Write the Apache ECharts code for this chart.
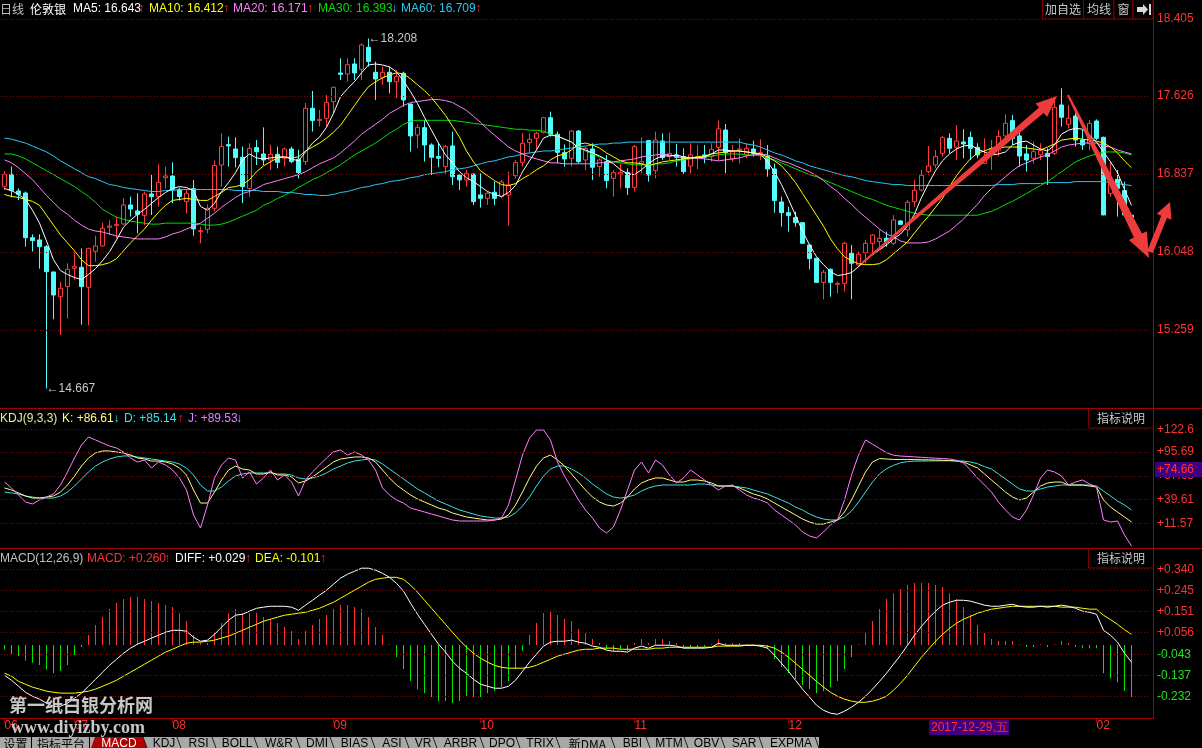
<!DOCTYPE html>
<html><head><meta charset="utf-8">
<script src="https://cdn.jsdelivr.net/npm/echarts@6/dist/echarts.min.js"></script>
<style>html,body{margin:0;padding:0;background:#000;overflow:hidden}#c{width:1202px;height:748px}</style>
</head><body><div id="c"></div>
<script>
// ---------------- DATA ----------------
const opens=[16.709,16.834,16.665,16.645,16.193,16.170,16.102,15.846,15.596,15.698,
15.883,15.893,15.691,16.055,16.109,16.298,16.315,16.332,16.524,16.463,
16.419,16.635,16.608,16.800,16.817,16.682,16.557,16.689,16.254,16.278,
16.490,16.928,17.134,17.090,17.006,16.692,17.104,17.040,16.979,17.036,
16.996,17.090,16.986,16.962,17.502,17.377,17.400,17.569,17.859,17.849,
17.950,17.896,18.119,17.866,17.815,17.866,17.771,17.856,17.545,17.232,
17.306,17.131,17.013,16.912,17.121,16.827,16.777,16.837,16.625,16.591,
16.652,16.608,16.625,16.820,16.955,17.154,17.198,17.255,17.407,17.239,
17.053,16.996,17.272,16.979,17.090,16.912,16.962,16.793,16.837,16.854,
16.702,16.945,17.175,16.871,17.171,17.013,17.030,17.013,16.918,17.000,
17.030,17.013,17.107,17.282,16.989,17.080,17.030,17.090,17.040,17.013,
16.888,16.554,16.446,16.396,16.345,16.119,15.984,15.741,15.873,15.721,
15.731,16.035,15.917,16.042,16.136,16.153,16.187,16.136,16.362,16.271,
16.557,16.675,16.861,16.928,17.046,17.198,17.107,17.161,17.208,17.107,
16.945,17.040,17.080,17.222,17.377,17.222,17.040,16.996,17.030,17.046,
17.046,17.535,17.340,17.424,17.181,17.148,17.373,17.208,16.642,16.783,
16.669,16.420];
const closes=[16.834,16.669,16.632,16.193,16.163,16.102,15.849,15.613,15.681,15.873,
15.900,15.698,16.085,16.109,16.288,16.311,16.328,16.524,16.483,16.429,
16.635,16.608,16.753,16.817,16.682,16.608,16.642,16.281,16.264,16.490,
16.922,17.114,17.121,17.003,16.709,17.097,17.063,16.979,17.036,16.955,
17.090,16.962,16.851,17.502,17.377,17.390,17.562,17.714,17.846,17.943,
17.859,18.142,17.974,17.798,17.866,17.771,17.822,17.586,17.222,17.309,
17.131,17.006,16.996,17.114,16.810,16.777,16.844,16.557,16.591,16.642,
16.591,16.756,16.726,16.952,17.148,17.188,17.249,17.407,17.239,17.056,
16.989,17.272,16.962,17.097,16.905,16.979,16.770,16.851,16.854,16.699,
17.114,16.962,16.827,17.181,17.003,17.046,17.006,16.861,17.030,17.013,
17.006,17.087,17.293,17.053,17.063,17.090,17.097,17.046,17.053,16.888,
16.568,16.446,16.416,16.345,16.136,15.981,15.741,15.843,15.741,15.731,
16.136,15.934,16.025,16.136,16.220,16.187,16.146,16.372,16.328,16.551,
16.672,16.824,16.918,17.013,17.205,17.097,17.171,17.141,17.097,17.030,
16.996,17.087,17.215,17.350,17.198,17.019,16.979,17.063,17.073,17.013,
17.512,17.411,17.401,17.181,17.131,17.350,17.198,16.423,16.760,16.692,
16.423,16.400];
const lows=[16.675,16.601,16.574,16.102,16.052,15.880,14.667,15.367,15.209,15.374,
15.765,15.313,15.306,15.950,16.102,16.220,16.187,16.321,16.406,16.237,
16.321,16.423,16.507,16.692,16.541,16.568,16.439,16.213,16.136,16.237,
16.456,16.709,16.912,16.905,16.541,16.608,16.928,16.928,16.878,16.895,
16.912,16.945,16.793,16.928,17.266,17.316,17.316,17.451,17.788,17.771,
17.788,17.788,17.923,17.586,17.738,17.653,17.603,17.518,17.063,17.097,
16.962,16.827,16.905,16.827,16.726,16.675,16.709,16.524,16.497,16.524,
16.524,16.591,16.315,16.793,16.912,17.046,17.080,17.249,17.215,16.945,
16.912,16.912,16.945,16.878,16.777,16.810,16.692,16.608,16.692,16.625,
16.659,16.844,16.760,16.793,16.979,16.979,16.912,16.837,16.844,16.885,
16.945,16.962,16.979,16.844,16.962,16.945,16.996,17.013,16.979,16.810,
16.446,16.304,16.254,16.304,16.130,15.873,15.735,15.569,15.596,15.630,
15.647,15.569,15.893,15.934,16.035,16.069,16.102,16.119,16.320,16.203,
16.507,16.659,16.844,16.895,17.013,17.046,16.979,16.996,16.979,16.996,
16.940,16.878,17.013,17.181,17.131,16.912,16.861,16.945,16.979,16.726,
17.030,17.316,17.299,17.114,17.080,17.080,17.181,16.420,16.608,16.406,
16.420,16.380];
const highs=[16.868,16.912,16.692,16.660,16.227,16.227,16.119,15.850,15.748,15.934,
16.042,16.085,16.090,16.213,16.345,16.369,16.406,16.591,16.608,16.642,
16.659,16.837,16.935,16.912,16.955,16.699,16.682,16.777,16.304,16.530,
16.972,17.249,17.215,17.208,17.114,17.148,17.181,17.309,17.131,17.114,
17.104,17.114,17.080,17.559,17.677,17.485,17.636,17.721,18.007,18.007,
18.007,18.159,18.208,17.974,17.923,17.923,17.889,17.873,17.545,17.340,
17.384,17.148,17.148,17.131,17.266,16.830,16.878,16.840,16.844,16.659,
16.760,16.777,16.861,16.979,17.249,17.249,17.266,17.410,17.468,17.266,
17.137,17.282,17.282,17.114,17.148,16.996,17.030,16.878,16.945,16.895,
17.131,17.208,17.181,17.266,17.249,17.255,17.141,17.097,17.148,17.131,
17.131,17.148,17.377,17.343,17.131,17.198,17.148,17.175,17.188,17.131,
16.945,16.608,16.507,16.456,16.350,16.125,15.990,15.866,15.883,15.748,
16.153,16.119,16.052,16.170,16.230,16.271,16.254,16.423,16.370,16.574,
16.777,16.878,17.121,17.080,17.222,17.249,17.333,17.289,17.266,17.148,
17.198,17.181,17.282,17.441,17.434,17.255,17.131,17.165,17.148,17.097,
17.620,17.704,17.535,17.512,17.282,17.384,17.390,17.215,16.962,16.878,
16.760,16.430];
const ma5=[16.69,16.67,16.63,16.58,16.47,16.34,16.16,15.97,15.86,15.82,
15.79,15.77,15.82,15.88,15.96,16.05,16.17,16.30,16.37,16.43,
16.48,16.54,16.60,16.65,16.69,16.71,16.70,16.67,16.51,16.47,
16.54,16.66,16.75,16.85,16.98,17.04,17.00,16.99,17.00,17.01,
17.01,16.99,16.97,17.06,17.15,17.21,17.31,17.45,17.62,17.70,
17.77,17.86,17.94,17.95,17.94,17.92,17.87,17.78,17.67,17.55,
17.41,17.28,17.15,17.03,16.95,16.86,16.80,16.76,16.71,16.66,
16.63,16.61,16.65,16.72,16.86,16.97,17.08,17.20,17.23,17.22,
17.19,17.16,17.10,17.08,17.05,17.02,16.98,16.94,16.88,16.84,
16.83,16.88,16.94,16.99,17.02,17.02,17.03,17.01,17.00,17.00,
17.01,17.04,17.08,17.08,17.07,17.07,17.06,17.05,17.04,16.96,
16.86,16.73,16.58,16.42,16.26,16.12,16.00,15.92,15.85,15.81,
15.82,15.84,15.90,15.96,16.02,16.07,16.12,16.18,16.23,16.31,
16.43,16.60,16.74,16.87,16.97,17.04,17.09,17.12,17.13,17.09,
17.06,17.03,17.04,17.06,17.13,17.16,17.17,17.13,17.09,17.07,
17.13,17.24,17.28,17.30,17.29,17.23,17.16,17.06,16.96,16.85,
16.68,16.52];
const ma10=[16.63,16.61,16.60,16.58,16.56,16.52,16.42,16.32,16.22,16.14,
16.06,15.97,15.91,15.91,15.92,15.94,15.98,16.06,16.14,16.21,
16.28,16.37,16.45,16.52,16.57,16.58,16.59,16.58,16.57,16.57,
16.61,16.65,16.70,16.71,16.73,16.78,16.86,16.92,16.96,17.00,
17.01,17.00,17.01,17.07,17.11,17.15,17.20,17.26,17.33,17.43,
17.53,17.63,17.72,17.77,17.81,17.84,17.86,17.85,17.80,17.74,
17.68,17.61,17.52,17.43,17.32,17.21,17.07,16.96,16.87,16.82,
16.77,16.73,16.72,16.74,16.79,16.83,16.88,16.92,16.98,17.02,
17.04,17.08,17.14,17.15,17.13,17.10,17.05,17.01,16.97,16.95,
16.95,16.94,16.92,16.94,16.96,16.97,16.98,16.99,17.00,17.01,
17.02,17.04,17.05,17.06,17.07,17.07,17.06,17.05,17.04,17.01,
16.97,16.92,16.84,16.75,16.64,16.53,16.42,16.31,16.18,16.08,
16.00,15.96,15.93,15.92,15.92,15.93,15.97,16.03,16.09,16.15,
16.24,16.33,16.41,16.50,16.59,16.71,16.82,16.91,16.99,17.05,
17.07,17.10,17.10,17.11,17.11,17.11,17.10,17.09,17.08,17.11,
17.14,17.18,17.19,17.20,17.19,17.18,17.17,17.15,17.11,17.05,
16.97,16.90];
const ma20=[16.98,16.95,16.90,16.84,16.78,16.70,16.62,16.55,16.48,16.43,
16.37,16.32,16.28,16.26,16.25,16.23,16.21,16.20,16.19,16.18,
16.18,16.18,16.18,16.20,16.23,16.25,16.28,16.31,16.34,16.39,
16.44,16.50,16.55,16.60,16.64,16.66,16.69,16.73,16.75,16.77,
16.79,16.81,16.83,16.86,16.90,16.94,16.97,17.00,17.05,17.11,
17.17,17.24,17.29,17.34,17.39,17.45,17.49,17.53,17.56,17.57,
17.58,17.59,17.59,17.58,17.56,17.52,17.48,17.42,17.36,17.29,
17.23,17.17,17.11,17.07,17.04,17.01,16.99,16.97,16.95,16.95,
16.94,16.94,16.94,16.94,16.94,16.95,16.95,16.96,16.97,16.98,
16.99,17.01,17.02,17.03,17.04,17.03,17.01,17.00,17.00,17.00,
16.99,16.98,16.97,16.98,16.99,17.00,17.02,17.03,17.04,17.03,
17.00,16.97,16.95,16.92,16.89,16.86,16.82,16.77,16.71,16.66,
16.59,16.53,16.46,16.40,16.34,16.28,16.23,16.20,16.16,16.14,
16.14,16.14,16.15,16.18,16.22,16.26,16.32,16.38,16.46,16.53,
16.62,16.69,16.75,16.81,16.87,16.92,16.95,16.98,17.01,17.03,
17.07,17.11,17.13,17.14,17.15,17.15,17.15,17.12,17.11,17.08,
17.06,17.04];
const ma30=[17.04,17.04,17.02,16.99,16.95,16.91,16.87,16.83,16.79,16.75,
16.71,16.66,16.61,16.55,16.48,16.44,16.40,16.38,16.36,16.35,
16.34,16.33,16.33,16.34,16.34,16.34,16.34,16.34,16.33,16.32,
16.32,16.33,16.35,16.38,16.41,16.44,16.47,16.52,16.55,16.59,
16.62,16.66,16.70,16.74,16.78,16.81,16.85,16.89,16.93,16.98,
17.03,17.07,17.11,17.15,17.20,17.25,17.29,17.34,17.37,17.38,
17.38,17.38,17.38,17.38,17.38,17.37,17.36,17.35,17.34,17.33,
17.32,17.31,17.30,17.29,17.29,17.28,17.28,17.27,17.24,17.22,
17.19,17.16,17.11,17.07,17.04,17.01,16.98,16.96,16.95,16.94,
16.93,16.93,16.93,16.94,16.94,16.95,16.97,16.98,16.99,17.00,
17.01,17.02,17.03,17.04,17.04,17.04,17.03,17.03,17.02,17.00,
16.98,16.95,16.92,16.89,16.86,16.83,16.81,16.78,16.75,16.72,
16.69,16.66,16.63,16.60,16.58,16.55,16.52,16.50,16.48,16.46,
16.44,16.43,16.42,16.42,16.42,16.42,16.42,16.42,16.42,16.42,
16.44,16.46,16.49,16.53,16.56,16.60,16.64,16.68,16.72,16.76,
16.81,16.86,16.91,16.96,16.99,17.02,17.04,17.06,17.06,17.06,
17.05,17.03];
const ma60=[17.20,17.19,17.17,17.15,17.12,17.09,17.06,17.02,16.97,16.93,
16.89,16.85,16.81,16.79,16.76,16.73,16.72,16.70,16.69,16.68,
16.67,16.66,16.66,16.67,16.67,16.68,16.68,16.68,16.68,16.68,
16.68,16.68,16.68,16.67,16.67,16.67,16.67,16.66,16.66,16.66,
16.65,16.65,16.64,16.63,16.63,16.62,16.62,16.63,16.65,16.66,
16.68,16.70,16.71,16.73,16.74,16.76,16.77,16.78,16.80,16.81,
16.83,16.84,16.85,16.86,16.88,16.89,16.90,16.92,16.94,16.96,
16.97,16.99,17.01,17.02,17.04,17.05,17.06,17.07,17.07,17.08,
17.09,17.10,17.11,17.12,17.13,17.14,17.14,17.15,17.15,17.16,
17.16,17.16,17.16,17.16,17.16,17.16,17.16,17.16,17.16,17.16,
17.16,17.16,17.16,17.16,17.16,17.16,17.14,17.13,17.11,17.08,
17.05,17.03,17.00,16.97,16.95,16.92,16.90,16.88,16.86,16.84,
16.82,16.81,16.79,16.77,16.76,16.75,16.74,16.73,16.73,16.72,
16.72,16.72,16.72,16.72,16.72,16.72,16.72,16.72,16.72,16.72,
16.72,16.72,16.73,16.73,16.73,16.74,16.74,16.74,16.74,16.75,
16.75,16.75,16.75,16.76,16.76,16.76,16.76,16.76,16.75,16.74,
16.73,16.72];
const kdjK=[53.3,50.9,47.4,43.8,41.4,41.4,42.6,43.8,48.5,56.8,
67.4,79.2,88.7,94.6,97.0,97.0,95.8,94.6,92.2,88.7,
87.5,85.1,85.1,84.0,81.6,76.9,68.6,50.9,35.5,35.5,
48.5,62.7,74.5,79.2,75.7,74.5,69.8,69.8,72.2,68.6,
68.6,66.3,59.2,61.5,66.3,72.2,78.1,84.0,87.5,88.7,
89.9,89.9,88.7,84.0,74.5,65.1,56.8,50.9,45.0,40.3,
36.7,33.2,29.6,27.3,23.7,21.4,19.0,17.8,16.6,15.5,
15.5,16.6,21.4,33.2,48.5,65.1,79.2,88.7,92.2,86.3,
79.2,69.8,60.3,50.9,42.6,36.7,33.2,32.0,35.5,42.6,
52.1,59.2,62.7,65.1,65.1,62.7,60.3,60.3,62.7,62.7,
61.5,59.2,55.6,55.6,55.6,53.3,49.7,46.2,43.8,40.3,
35.5,30.8,26.1,21.4,16.6,13.1,10.7,10.7,13.1,15.5,
24.9,39.1,55.6,72.2,84.0,88.0,87.5,87.0,87.0,87.0,
86.8,86.6,86.5,86.3,86.0,85.8,85.0,84.0,80.5,76.9,
69.8,62.7,55.6,48.5,42.6,39.1,41.4,48.5,55.6,59.2,
60.3,60.3,56.8,56.8,56.8,55.6,54.4,39.1,30.8,24.9,
19.0,13.1];
const kdjD=[48.5,47.4,46.2,43.8,42.6,41.4,41.4,41.4,43.8,48.5,
55.6,63.9,72.2,79.2,84.0,87.5,89.9,91.1,91.1,89.9,
88.7,87.5,86.3,85.1,84.0,81.6,76.9,68.6,56.8,49.7,
49.7,54.4,61.5,67.4,69.8,71.0,71.0,71.0,71.0,69.8,
69.8,68.6,65.1,63.9,65.1,67.4,71.0,75.7,79.2,82.8,
85.1,86.3,87.5,86.3,81.6,75.7,69.8,63.9,58.0,52.1,
47.4,42.6,37.9,34.4,30.8,27.3,24.9,22.5,20.2,19.0,
17.8,17.8,19.0,23.7,32.0,42.6,55.6,67.4,75.7,79.2,
79.2,75.7,71.0,65.1,58.0,52.1,46.2,42.6,41.4,42.6,
45.0,49.7,53.3,55.6,56.8,56.8,56.8,56.8,56.8,58.0,
58.0,56.8,55.6,55.6,55.6,54.4,53.3,50.9,48.5,46.2,
42.6,39.1,35.5,30.8,27.3,22.5,19.0,16.6,15.5,15.5,
19.0,26.1,36.7,48.5,60.3,69.8,76.0,80.0,83.0,84.5,
85.0,85.1,85.2,85.3,85.4,85.4,85.4,85.0,84.0,82.0,
78.5,75.7,69.8,63.9,58.0,52.1,49.7,49.7,52.1,54.4,
55.6,56.8,56.8,56.8,56.8,56.8,55.6,49.7,43.8,37.9,
33.2,27.3];
const kdjJ=[60.3,53.3,45.0,36.7,34.4,39.1,42.6,46.2,56.8,72.2,
88.7,104.0,113.5,110.0,106.4,102.9,100.5,95.8,88.7,84.0,
86.3,76.9,84.0,80.4,74.5,65.1,50.9,21.4,6.0,33.2,
65.1,80.4,88.7,86.3,65.1,72.2,58.0,65.1,74.5,62.7,
68.6,60.3,43.8,62.7,72.2,80.4,88.7,95.8,98.2,92.2,
95.8,92.2,86.3,74.5,53.3,45.0,39.1,35.5,29.6,27.3,
24.9,22.5,20.2,17.8,15.5,14.3,14.3,14.3,14.3,14.3,
15.5,17.8,33.2,62.7,92.2,112.3,121.8,121.8,110.0,84.0,
67.4,53.3,39.1,27.3,17.8,6.0,0.1,7.2,27.3,50.9,
74.5,84.0,71.0,86.3,80.4,68.6,59.2,65.1,74.5,68.6,
62.7,56.8,50.9,55.6,56.8,50.9,45.0,41.4,39.1,35.5,
27.3,21.4,15.5,9.6,1.3,-3.4,-5.8,1.3,9.6,15.5,
39.1,68.6,92.2,110.0,105.0,100.0,95.0,92.0,91.0,90.5,
90.0,89.5,89.0,88.5,88.0,87.5,86.0,82.8,74.5,65.1,
56.8,48.5,36.7,27.3,19.0,15.5,27.3,45.0,65.1,74.5,
72.2,67.4,56.8,60.3,62.7,58.0,54.4,15.5,13.1,14.3,
-2.3,-15.2];
const macdDiff=[-0.136,-0.158,-0.185,-0.212,-0.230,-0.243,-0.261,-0.275,-0.275,-0.261,
-0.239,-0.216,-0.185,-0.154,-0.122,-0.091,-0.064,-0.037,-0.014,0.004,
0.017,0.031,0.044,0.057,0.066,0.066,0.062,0.035,0.017,0.022,
0.048,0.080,0.111,0.134,0.138,0.152,0.165,0.170,0.174,0.174,
0.174,0.170,0.156,0.179,0.201,0.224,0.246,0.273,0.300,0.318,
0.331,0.345,0.345,0.336,0.322,0.304,0.277,0.242,0.188,0.138,
0.093,0.048,0.004,-0.032,-0.073,-0.104,-0.127,-0.154,-0.176,-0.185,
-0.194,-0.194,-0.185,-0.158,-0.118,-0.077,-0.041,-0.005,0.013,0.017,
0.017,0.022,0.013,0.008,-0.005,-0.010,-0.023,-0.028,-0.028,-0.032,
-0.014,-0.005,-0.014,-0.001,-0.001,-0.001,-0.005,-0.014,-0.014,-0.014,
-0.014,-0.010,0.008,-0.001,-0.001,-0.001,-0.001,-0.001,-0.005,-0.014,
-0.046,-0.082,-0.118,-0.158,-0.198,-0.234,-0.270,-0.293,-0.306,-0.311,
-0.297,-0.279,-0.257,-0.230,-0.198,-0.163,-0.127,-0.086,-0.046,-0.001,
0.044,0.084,0.120,0.152,0.179,0.192,0.201,0.201,0.197,0.188,
0.179,0.174,0.174,0.179,0.183,0.174,0.170,0.170,0.174,0.170,
0.174,0.179,0.174,0.165,0.152,0.147,0.138,0.066,0.044,0.013,
-0.037,-0.077];
const macdDea=[-0.126,-0.140,-0.163,-0.176,-0.189,-0.198,-0.207,-0.212,-0.216,-0.216,
-0.216,-0.212,-0.207,-0.198,-0.185,-0.172,-0.158,-0.140,-0.122,-0.104,
-0.086,-0.068,-0.050,-0.032,-0.019,-0.005,0.008,0.013,0.013,0.017,
0.022,0.031,0.040,0.053,0.066,0.080,0.093,0.107,0.116,0.125,
0.134,0.138,0.143,0.147,0.156,0.165,0.179,0.192,0.210,0.228,
0.246,0.264,0.282,0.295,0.300,0.304,0.304,0.295,0.269,0.237,
0.201,0.165,0.129,0.093,0.057,0.022,-0.010,-0.037,-0.059,-0.077,
-0.091,-0.100,-0.104,-0.104,-0.104,-0.100,-0.091,-0.077,-0.064,-0.050,
-0.041,-0.032,-0.023,-0.019,-0.019,-0.014,-0.014,-0.014,-0.019,-0.019,
-0.019,-0.019,-0.019,-0.014,-0.014,-0.010,-0.010,-0.010,-0.010,-0.010,
-0.010,-0.010,-0.005,-0.005,-0.005,-0.005,-0.001,-0.001,-0.001,-0.005,
-0.014,-0.032,-0.055,-0.082,-0.109,-0.136,-0.163,-0.189,-0.212,-0.230,
-0.243,-0.252,-0.257,-0.257,-0.252,-0.243,-0.230,-0.203,-0.172,-0.136,
-0.095,-0.055,-0.019,0.017,0.048,0.075,0.098,0.116,0.129,0.143,
0.152,0.161,0.165,0.170,0.174,0.174,0.174,0.174,0.174,0.174,
0.174,0.170,0.170,0.170,0.165,0.161,0.161,0.134,0.114,0.093,
0.069,0.048];
const macdBar=[-0.02,-0.04,-0.05,-0.07,-0.08,-0.09,-0.11,-0.126,-0.117,-0.09,
-0.045,-0.009,0.045,0.09,0.126,0.162,0.189,0.207,0.216,0.216,
0.207,0.198,0.189,0.18,0.171,0.144,0.108,0.045,0.009,0.009,
0.054,0.099,0.144,0.162,0.144,0.144,0.144,0.126,0.117,0.099,
0.081,0.063,0.027,0.063,0.09,0.117,0.135,0.162,0.18,0.18,
0.171,0.162,0.126,0.081,0.045,0.004,-0.054,-0.108,-0.162,-0.198,
-0.216,-0.233,-0.251,-0.251,-0.26,-0.251,-0.233,-0.233,-0.233,-0.216,
-0.207,-0.189,-0.162,-0.108,-0.027,0.045,0.099,0.144,0.153,0.135,
0.117,0.108,0.072,0.054,0.027,0.009,-0.018,-0.027,-0.018,-0.027,
0.009,0.027,0.009,0.027,0.027,0.018,0.009,-0.009,-0.009,-0.009,
-0.009,0.004,0.027,0.009,0.009,0.009,0.004,0.004,-0.009,-0.018,
-0.063,-0.099,-0.126,-0.153,-0.18,-0.198,-0.216,-0.207,-0.189,-0.162,
-0.108,-0.054,0.004,0.054,0.108,0.162,0.207,0.233,0.251,0.269,
0.278,0.278,0.278,0.269,0.26,0.233,0.207,0.171,0.135,0.09,
0.054,0.027,0.018,0.018,0.018,0.004,-0.009,-0.009,0.004,-0.009,
0.004,0.018,0.009,-0.009,-0.015,-0.015,-0.015,-0.127,-0.15,-0.167,
-0.206,-0.233];
// tick labels
const priceTicks=[18.405,17.626,16.837,16.048,15.259];
const kdjTicks=[122.6,95.69,67.65,39.61,11.57];
const macdTicks=[0.340,0.245,0.151,0.056,-0.043,-0.137,-0.232];
const monthIdx=[0,10,24,47,68,90,112,156];
const monthText=['06','07','08','09','10','11','12','02'];
const maxMark={idx:52,val:18.208}, minMark={idx:6,val:14.667};

// ---------------- CHART ----------------
const N_SLOTS=164;
const cats=[];for(let i=0;i<N_SLOTS;i++)cats.push(String(i));
const ohlc=opens.map((o,i)=>[o,closes[i],lows[i],highs[i]]);
const FONT='Arial, "Liberation Sans", sans-serif';
const CJK='"Noto Sans CJK SC", "Noto Sans", sans-serif';
const RED='#ff3232', GRN='#20e020', DARK='#a00000';
const fmt3=v=>(v>=0?'+':'')+v.toFixed(3);
function gridMark(ticks,fmt){
  return {silent:true,symbol:['none','none'],animation:false,precision:4,
    lineStyle:{color:'#8c0000',type:[1,2],width:1},
    label:{show:true,position:'end',distance:8,fontFamily:FONT,fontSize:12},
    data:ticks.map(v=>({yAxis:v,label:{formatter:fmt(v),color:v>=0?RED:GRN}}))};
}
const nulls=cats.map(()=>null);
const monthSet={};monthIdx.forEach((m,k)=>monthSet[m]=monthText[k]);
const xBase={type:'category',data:cats,boundaryGap:true,axisLine:{show:false,onZero:false},axisTick:{show:false},axisLabel:{show:false},splitLine:{show:false}};
const yBase={type:'value',scale:false,axisLine:{show:false},axisTick:{show:false},axisLabel:{show:false},splitLine:{show:false}};

const G=[];
function T(x,y,text,fill,size,family,align,weight){
  G.push({type:'text',z:100,silent:true,style:{x:x,y:y,text:text,fill:fill,
    font:(weight||'normal')+' '+(size||12)+'px '+(family||FONT),
    fontSize:size||12,fontFamily:family||FONT,fontWeight:weight||'normal',
    align:align||'left',textAlign:align||'left',verticalAlign:'middle',textVerticalAlign:'middle'}});
}
function L(x1,y1,x2,y2,c,w){G.push({type:'line',z:99,silent:true,shape:{x1,y1,x2,y2},style:{stroke:c,lineWidth:w||1}});}
function R(x,y,w,h,fill,stroke){G.push({type:'rect',z:98,silent:true,shape:{x,y,width:w,height:h},style:{fill:fill||'none',stroke:stroke||null,lineWidth:1}});}
function P(pts,fill,z){G.push({type:'polygon',z:z||101,silent:true,shape:{points:pts},style:{fill:fill}});}

// header
T(0,9,'日线','#c0c0c0',12,CJK);
T(30,9,'伦敦银','#ffffff',12,CJK);
T(73,9,'MA5: 16.643','#ffffff');T(138.5,9,'↑',RED);
T(149,9,'MA10: 16.412','#ffff00');T(223,9,'↑',RED);
T(233,9,'MA20: 16.171','#ff80ff');T(307,9,'↑',RED);
T(318,9,'MA30: 16.393','#00e000');T(391,9,'↓','#40e0e0');
T(401,9,'MA60: 16.709','#28c8f0');T(475.5,9,'↑',RED);
// top buttons
R(1042.5,-1,41,20,'#000','#800000');R(1083.5,-1,30.5,20,'#000','#800000');R(1114,-1,19,20,'#000','#800000');R(1133,-1,20,20,'#000','#800000');
T(1063,9,'加自选','#c8c8c8',12,CJK,'center');T(1099,9,'均线','#c8c8c8',12,CJK,'center');T(1123.5,9,'窗','#c8c8c8',12,CJK,'center');
P([[1137,7],[1143,7],[1143,4],[1148,9.5],[1143,15],[1143,12],[1137,12]],'#d8d8d8',102);
R(1149,4,2,11,'#d8d8d8',null);
// panel borders
L(0,408.5,1202,408.5,DARK);L(0,548.5,1202,548.5,DARK);
L(1153.5,0,1153.5,718.5,DARK);L(0,718.5,1153.5,718.5,DARK);
// indicator buttons
R(1088.5,408.5,65,19.5,'#000','#800000');T(1121,418,'指标说明','#c8c8c8',12,CJK,'center');
R(1088.5,548.5,65,19.5,'#000','#800000');T(1121,558,'指标说明','#c8c8c8',12,CJK,'center');
// KDJ title
T(0,419,'KDJ(9,3,3)','#e8e8a0');T(62,419,'K: +86.61','#ffff80');T(113.5,419,'↓','#40e0e0');
T(124,419,'D: +85.14','#40e0e0');T(177.5,419,'↑',RED);T(188,419,'J: +89.53','#e080ff');T(236,419,'↓','#40e0e0');
// MACD title
T(0,559,'MACD(12,26,9)','#c0c0c0');T(87,559,'MACD: +0.260',RED);T(164,559,'↑',RED);
T(175,559,'DIFF: +0.029','#ffffff');T(245,559,'↑',RED);T(255,559,'DEA: -0.101','#ffff00');T(320,559,'↑',RED);
// crosshair value box
R(1155,462,47,15,'#400080',null);T(1157,469.5,'+74.66',RED);
// date box
R(929,720,80,15,'#400080',null);T(931,727.5,'2017-12-29,五',RED);
// bottom tabs
R(0,737,819,11,'#a8a8a8',null);
const tabs=[['设置',0,31],['指标平台',33,89],['MACD',91,147],['KDJ',147,181],['RSI',181,216],['BOLL',216,258],['W&R',258,300],['DMI',300,334],['BIAS',334,375],['ASI',375,409],['VR',409,437],['ARBR',437,484],['DPO',484,520],['TRIX',520,560],['新DMA',560,615],['BBI',615,650],['MTM',650,688],['OBV',688,725],['SAR',725,763],['EXPMA',763,819]];
tabs.forEach((t,k)=>{
  if(t[0]==='MACD'){P([[t[1]+4,737],[t[2]-4,737],[t[2],748],[t[1],748]],'#b00000',99);}
  if(k>=2){L(t[2]-4,737,t[2],748,'#202020');}
  T((t[1]+t[2])/2,744,t[0],t[0]==='MACD'?'#ffffff':'#000000',12,t[0].match(/[\u4e00-\u9fff]/)?CJK:FONT,'center');
});
L(31.5,737,31.5,748,'#000');L(89.5,737,89.5,748,'#000');
// watermark
T(9,705,'第一纸白银分析网','#c8c8c8',18,'"Noto Sans CJK SC"',null,'bold');
T(11,728,'www.diyizby.com','#c8c8c8',18,'"Liberation Serif", "DejaVu Serif", serif',null,'bold');
// hand drawn arrows
const AR='#ee3b3b';
P([[861.4,262.2],[1039.0,107.6],[1035.5,103.5],[1057,96],[1047.1,117.1],[1043.6,113.0],[862.6,263.8]],AR);
P([[1067.1,95.4],[1133.9,237.6],[1128.9,240.1],[1149,258],[1146.9,231.2],[1141.9,233.6],[1068.9,94.6]],AR);
P([[1147.2,250.9],[1161.3,215.7],[1156.7,213.8],[1170,202],[1171.5,219.8],[1166.9,217.9],[1152.8,253.1]],AR);

const chart=echarts.init(document.getElementById('c'),null,{renderer:'canvas'});
const lineS=(data,color,x,y,z)=>({type:'line',data:data,xAxisIndex:x,yAxisIndex:y,showSymbol:false,symbol:'none',silent:true,z:z||3,
  lineStyle:{color:color,width:1},itemStyle:{color:color},animation:false});
const option={
  backgroundColor:'#000',animation:false,
  grid:[{left:1,top:18,width:1148,height:390},{left:1,top:408,width:1148,height:140},{left:1,top:548,width:1148,height:170}],
  xAxis:[Object.assign({},xBase,{gridIndex:0}),Object.assign({},xBase,{gridIndex:1}),
    Object.assign({},xBase,{gridIndex:2,position:'bottom',
      axisTick:{show:true,alignWithLabel:true,length:5,interval:(i)=>monthSet[i]!==undefined,lineStyle:{color:DARK}},
      axisLabel:{show:true,interval:(i)=>monthSet[i]!==undefined,formatter:(v,i)=>monthSet[i]||'',align:'left',color:RED,fontSize:12,fontFamily:FONT,margin:2}})],
  yAxis:[Object.assign({},yBase,{gridIndex:0,min:14.470,max:18.4151}),
    Object.assign({},yBase,{gridIndex:1,min:-17.61,max:147.76}),
    Object.assign({},yBase,{gridIndex:2,min:-0.3276,max:0.4356})],
  graphic:{elements:G},
  series:[
    {type:'line',data:nulls,xAxisIndex:0,yAxisIndex:0,z:1,silent:true,markLine:gridMark(priceTicks,v=>v.toFixed(3))},
    {type:'line',data:nulls,xAxisIndex:1,yAxisIndex:1,z:1,silent:true,markLine:gridMark(kdjTicks,v=>'+'+String(v))},
    {type:'line',data:nulls,xAxisIndex:2,yAxisIndex:2,z:1,silent:true,markLine:gridMark(macdTicks,fmt3)},
    {type:'candlestick',data:ohlc,xAxisIndex:0,yAxisIndex:0,barWidth:4,z:2,silent:true,
      itemStyle:{color:'#000',color0:'#54fcfc',borderColor:'#ff3c3c',borderColor0:'#54fcfc',borderWidth:1},
      markPoint:{symbol:'rect',symbolSize:0.1,silent:true,itemStyle:{color:'transparent'},
        label:{show:true,position:'right',distance:0,color:'#c8c8c8',fontSize:12,fontFamily:FONT,formatter:p=>'←'+p.value.toFixed(3)},
        data:[{coord:[maxMark.idx,maxMark.val],value:maxMark.val},{coord:[minMark.idx,minMark.val],value:minMark.val}]}},
    lineS(ma60,'#28c8f0',0,0),lineS(ma30,'#00e000',0,0),lineS(ma20,'#ff80ff',0,0),lineS(ma10,'#ffff00',0,0),lineS(ma5,'#ffffff',0,0),
    lineS(kdjD,'#40e0e0',1,1),lineS(kdjK,'#ffff80',1,1),lineS(kdjJ,'#ff80ff',1,1),
    {type:'bar',data:macdBar,xAxisIndex:2,yAxisIndex:2,barWidth:1,silent:true,z:2,
      itemStyle:{color:p=>p.value>=0?RED:'#00e600'}},
    lineS(macdDea,'#ffff00',2,2),lineS(macdDiff,'#ffffff',2,2)
  ]
};
chart.setOption(option);
</script></body></html>
